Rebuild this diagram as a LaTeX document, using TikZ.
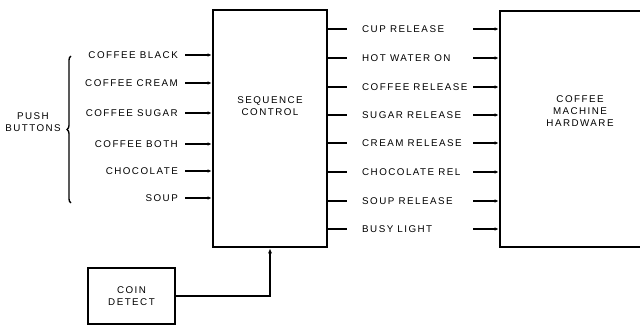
\documentclass[tikz,border=0pt]{standalone}
\usepackage{fontspec}
\setmainfont[LetterSpace=15]{Liberation Sans}
\usetikzlibrary{arrows.meta,decorations.pathreplacing}
\begin{document}
\begin{tikzpicture}[x=1pt,y=-1pt,
  lbl/.style={inner sep=0pt,font=\fontsize{9.8}{11}\selectfont},
  box/.style={draw,line width=2.6pt,inner sep=0pt},
  inl/.style={line width=1.7pt,-{Latex[length=4pt,width=3.5pt]}},
  stub/.style={line width=1.4pt},
  arr/.style={line width=1.7pt,-{Latex[length=4pt,width=3.5pt]}}]
\useasboundingbox (0,0) rectangle (640,326);
\clip (0,0) rectangle (640,326);
% boxes
\node[box,minimum width=114pt,minimum height=237pt] (seq) at (270,128.5) {};
\node[lbl,align=center] (seqtxt) at (270,106) {SEQUENCE\\[1pt]CONTROL};
\node[box,minimum width=162pt,minimum height=236pt] (hw) at (581,129) {};
\node[lbl,align=center] (hwtxt) at (580,111) {COFFEE\\[1pt]MACHINE\\[1pt]HARDWARE};
\node[box,minimum width=87pt,minimum height=56pt] (coin) at (131.5,296) {};
\node[lbl,align=center] (cointxt) at (131.5,296) {COIN\\[1pt]DETECT};
% inputs
\foreach \y/\t [count=\i] in {55/COFFEE BLACK,83/COFFEE CREAM,113/COFFEE SUGAR,144/COFFEE BOTH,171/CHOCOLATE,198/SOUP}{
  \node[lbl,anchor=east] (in\i) at (178,\y) {\t};
  \coordinate (ins\i) at (185,\y);
  \draw[inl] (ins\i) -- (seq.west |- ins\i);
}
% push buttons brace
\coordinate (brb) at (71,203);
\coordinate (brt) at (71,56);
\draw[line width=1.4pt,decorate,decoration={brace,amplitude=4pt}] (brb) -- (brt);
\node[lbl,align=center] (pb) at (33,122) {PUSH\\[1pt]BUTTONS};
% outputs
\foreach \y/\t [count=\i] in {29/CUP RELEASE,58/HOT WATER ON,87/COFFEE RELEASE,115/SUGAR RELEASE,143/CREAM RELEASE,172/CHOCOLATE REL,201/SOUP RELEASE,229/BUSY LIGHT}{
  \node[lbl,anchor=west] (out\i) at (362,\y) {\t};
  \coordinate (os\i) at (347,\y);
  \draw[stub] (seq.east |- os\i) -- (os\i);
  \coordinate (oa\i) at (473,\y);
  \draw[arr] (oa\i) -- (hw.west |- oa\i);
}
% coin connector
\draw[line width=1.4pt,-{Latex[length=5pt,width=4pt]}] (coin.east) -| (seq.south);
\end{tikzpicture}
\end{document}
